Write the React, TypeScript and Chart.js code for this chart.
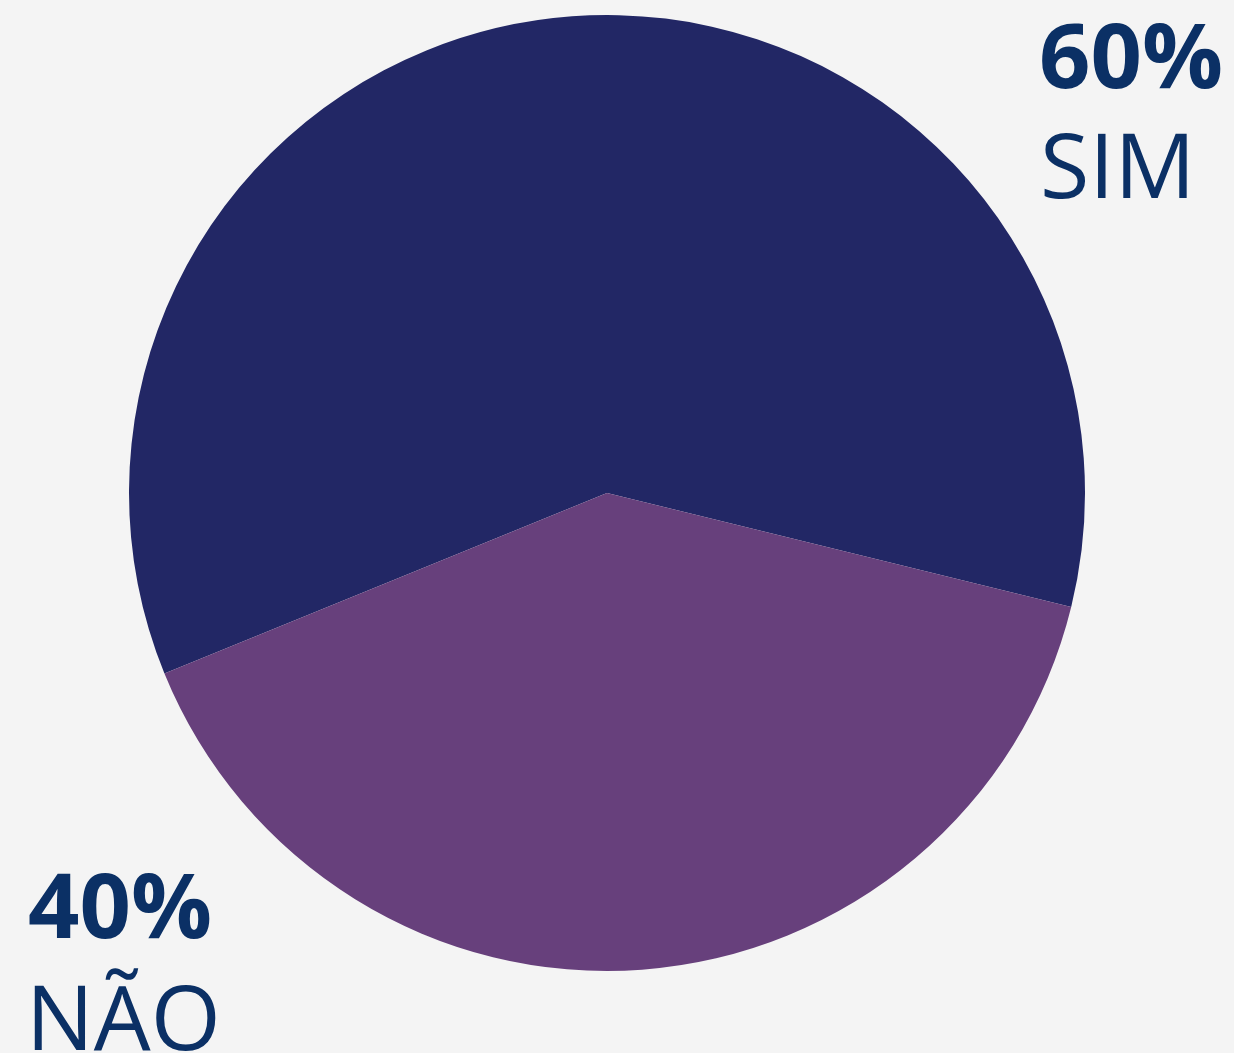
import React, { useEffect, useRef } from "react";
import { Chart, registerables } from "chart.js";

Chart.register(...registerables);

const categories = ["SIM", "NÃO"];
const values = [60, 40];
const percentLabels = ["60%", "40%"];
const sliceColors = ["#222765", "#67407c"];

const labelPlugin = {
  id: "cornerLabels",
  afterDraw(chart: any) {
    const ctx = chart.ctx;
    ctx.save();
    ctx.fillStyle = "#0b3065";
    ctx.textBaseline = "alphabetic";
    ctx.textAlign = "left";
    // SIM (top right)
    ctx.font = "bold 90px 'Open Sans'";
    ctx.fillText(percentLabels[0], 1039, 88);
    ctx.font = "90px 'Open Sans'";
    ctx.fillText(categories[0], 1040, 198);
    // NÃO (bottom left)
    ctx.font = "bold 90px 'Open Sans'";
    ctx.fillText(percentLabels[1], 28, 938);
    ctx.font = "90px 'Open Sans'";
    ctx.fillText(categories[1], 26, 1050);
    ctx.restore();
  },
};

export default function App() {
  const ref = useRef<HTMLCanvasElement>(null);
  useEffect(() => {
    document.body.style.margin = "0";
    document.body.style.background = "#f4f4f4";
    const chart = new Chart(ref.current!, {
      type: "pie",
      data: {
        labels: categories,
        datasets: [
          {
            data: values,
            backgroundColor: sliceColors,
            borderWidth: 0,
          },
        ],
      },
      options: {
        responsive: false,
        animation: false,
        rotation: -112.2,
        layout: { padding: { top: 15, bottom: 82, left: 0, right: 20 } },
        plugins: {
          legend: { display: false },
          tooltip: { enabled: false },
        },
      },
      plugins: [labelPlugin],
    });
    return () => chart.destroy();
  }, []);
  return (
    <div style={{ width: 1234, height: 1053, background: "#f4f4f4" }}>
      <canvas ref={ref} width={1234} height={1053} style={{ display: "block" }} />
    </div>
  );
}
